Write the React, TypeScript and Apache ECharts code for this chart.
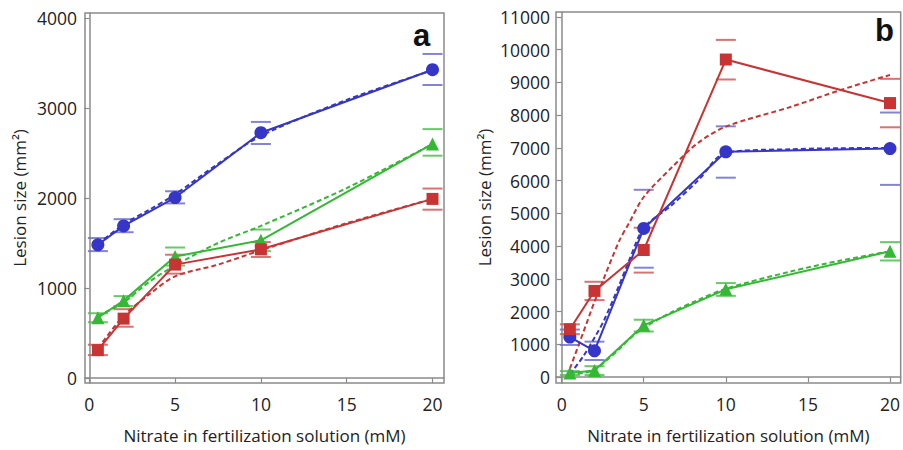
import React, { useEffect, useRef } from "react";
import * as echarts from "echarts";

// ---------- shared ----------
const nitrate = [0.5, 2, 5, 10, 20];
const xTicks = [0, 5, 10, 15, 20];
const yTicksA = [0, 1000, 2000, 3000, 4000];
const yTicksB = [0, 1000, 2000, 3000, 4000, 5000, 6000, 7000, 8000, 9000, 10000, 11000];
const xName = "Nitrate in fertilization solution (mM)";
const yName = "Lesion size (mm²)";

// ---------- panel a ----------
const blueA = [1480, 1690, 2005, 2725, 3425];
const blueHiA = [1555, 1765, 2075, 2845, 3600];
const blueLoA = [1410, 1620, 1940, 2600, 3255];
const greenA = [670, 860, 1350, 1530, 2600];
const greenHiA = [720, 910, 1450, 1650, 2765];
const greenLoA = [620, 800, 1250, 1410, 2470];
const redA = [310, 660, 1260, 1430, 1990];
const redHiA = [370, 765, 1370, 1510, 2105];
const redLoA = [255, 570, 1160, 1345, 1870];

const fitXA = [0.5, 2, 3.5, 5, 7.5, 10, 15, 20];
const blueFitA = [1490, 1705, 1870, 2040, 2380, 2690, 3090, 3420];
const greenFitA = [690, 840, 1070, 1250, 1500, 1690, 2110, 2600];
const redFitA = [330, 690, 930, 1130, 1260, 1420, 1720, 1990];

// ---------- panel b ----------
const blueB = [1220, 800, 4540, 6880, 6980];
const blueHiB = [1450, 1080, 5720, 7660, 8080];
const blueLoB = [980, 520, 3340, 6090, 5870];
const redB = [1460, 2630, 3880, 9700, 8370];
const redHiB = [1610, 2910, 4560, 10300, 9110];
const redLoB = [1310, 2350, 3190, 9090, 7630];
const greenB = [120, 200, 1580, 2680, 3840];
const greenHiB = [180, 330, 1750, 2870, 4120];
const greenLoB = [60, 60, 1390, 2480, 3560];

const fitXB = [0.5, 1.3, 2, 2.6, 3.5, 4.1, 5, 6.7, 8.3, 10, 14, 17, 20];
const blueFitB = [80, 620, 1200, 1750, 2800, 3550, 4550, 5250, 6000, 6850, 6960, 6990, 7000];
const redFitB = [250, 1340, 2300, 3050, 4150, 4700, 5500, 6400, 7150, 7650, 8260, 8770, 9230];
const greenFitB = [70, 120, 220, 450, 850, 1150, 1500, 1980, 2350, 2700, 3230, 3560, 3840];

const BLUE = "#3535c8";
const RED = "#c83434";
const GREEN = "#35b835";
const BLUE_CAP = "#6f6fd0";
const RED_CAP = "#d05a5a";
const GREEN_CAP = "#4cc04c";

const FONT = "Open Sans";
const AXIS_COLOR = "#8a8a8a";

const pairs = (xs: number[], ys: number[]) => xs.map((x, i) => [x, ys[i]]);
const caps = (hi: number[], lo: number[]) => [...pairs(nitrate, hi), ...pairs(nitrate, lo)];
const plain = (v: number) => String(v);

function lineSeries(idx: number, ys: number[], color: string, symbol: string, size: number) {
  return {
    type: "line",
    xAxisIndex: idx,
    yAxisIndex: idx,
    data: pairs(nitrate, ys),
    symbol,
    symbolSize: size,
    showSymbol: true,
    lineStyle: { color, width: 2 },
    itemStyle: { color, opacity: 1 },
    z: 4,
  };
}
function fitSeries(idx: number, xs: number[], ys: number[], color: string) {
  return {
    type: "line",
    xAxisIndex: idx,
    yAxisIndex: idx,
    data: pairs(xs, ys),
    smooth: 0.3,
    showSymbol: false,
    symbol: "none",
    lineStyle: { color, width: 2, type: [5, 3] },
    z: 3,
  };
}
function capSeries(idx: number, hi: number[], lo: number[], color: string) {
  return {
    type: "scatter",
    xAxisIndex: idx,
    yAxisIndex: idx,
    data: caps(hi, lo),
    symbol: "rect",
    symbolSize: [20, 2],
    itemStyle: { color, opacity: 0.85 },
    z: 2,
  };
}

function xAxis(idx: number, min: number, max: number) {
  return {
    gridIndex: idx,
    type: "value",
    min,
    max,
    name: xName,
    nameLocation: "middle",
    nameGap: 44,
    nameTextStyle: { fontFamily: FONT, fontSize: 17, color: "#222" },
    axisLine: { show: true, lineStyle: { color: AXIS_COLOR, width: 1.5 } },
    axisTick: { show: true, length: 5, customValues: xTicks, lineStyle: { color: AXIS_COLOR, width: 1.2 } },
    axisLabel: { customValues: xTicks, formatter: plain, fontFamily: FONT, fontSize: 17.5, color: "#222", margin: 12 },
    splitLine: { show: false },
  };
}
function yAxis(idx: number, min: number, max: number, ticks: number[], gap: number, margin: number) {
  return {
    gridIndex: idx,
    type: "value",
    min,
    max,
    name: yName,
    nameLocation: "middle",
    nameGap: gap,
    nameTextStyle: { fontFamily: FONT, fontSize: 17, color: "#222" },
    axisLine: { show: true, lineStyle: { color: AXIS_COLOR, width: 1.5 } },
    axisTick: { show: true, length: 5, customValues: ticks, lineStyle: { color: AXIS_COLOR, width: 1.2 } },
    axisLabel: { customValues: ticks, formatter: plain, fontFamily: FONT, fontSize: 17.5, color: "#222", margin },
    splitLine: { show: false },
  };
}

export default function App() {
  const ref = useRef<HTMLDivElement>(null);
  useEffect(() => {
    if (!ref.current) return;
    const chart = echarts.init(ref.current, null, { renderer: "svg" });
    chart.setOption({
      animation: false,
      backgroundColor: "#ffffff",
      grid: [
        { left: 85, top: 13, width: 359, height: 370, show: true, borderColor: AXIS_COLOR, borderWidth: 1.5, backgroundColor: "transparent" },
        { left: 556, top: 12, width: 348, height: 371, show: true, borderColor: AXIS_COLOR, borderWidth: 1.5, backgroundColor: "transparent" },
      ],
      xAxis: [xAxis(0, -0.25, 20.67), xAxis(1, -0.344, 20.65)],
      yAxis: [
        yAxis(0, -55, 4055, yTicksA, 57, 8),
        yAxis(1, -183, 11152, yTicksB, 63, 6),
      ],
      graphic: [
        { type: "text", left: 413, top: 20, style: { text: "a", fontFamily: "Liberation Sans", fontWeight: "bold", fontSize: 31, fill: "#111" } },
        { type: "text", left: 875, top: 15, style: { text: "b", fontFamily: "Liberation Sans", fontWeight: "bold", fontSize: 31, fill: "#111" } },
      ],
      series: [
        capSeries(0, blueHiA, blueLoA, BLUE_CAP),
        capSeries(0, greenHiA, greenLoA, GREEN_CAP),
        capSeries(0, redHiA, redLoA, RED_CAP),
        fitSeries(0, fitXA, blueFitA, BLUE),
        fitSeries(0, fitXA, greenFitA, GREEN),
        fitSeries(0, fitXA, redFitA, RED),
        lineSeries(0, blueA, BLUE, "circle", 13),
        lineSeries(0, greenA, GREEN, "triangle", 13),
        lineSeries(0, redA, RED, "rect", 12),

        capSeries(1, blueHiB, blueLoB, BLUE_CAP),
        capSeries(1, redHiB, redLoB, RED_CAP),
        capSeries(1, greenHiB, greenLoB, GREEN_CAP),
        fitSeries(1, fitXB, blueFitB, BLUE),
        fitSeries(1, fitXB, redFitB, RED),
        fitSeries(1, fitXB, greenFitB, GREEN),
        lineSeries(1, greenB, GREEN, "triangle", 13),
        lineSeries(1, blueB, BLUE, "circle", 13),
        lineSeries(1, redB, RED, "rect", 12),
      ],
    });
    return () => chart.dispose();
  }, []);
  return (
    <div
      ref={ref}
      style={{ position: "fixed", left: 0, top: 0, width: 903, height: 450, background: "#fff" }}
    />
  );
}
